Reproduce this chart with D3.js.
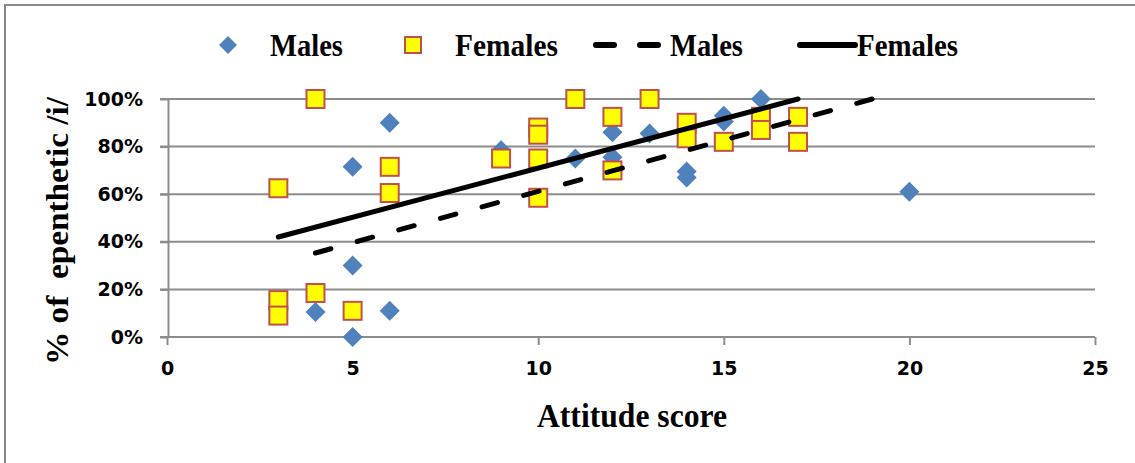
<!DOCTYPE html>
<html>
<head>
<meta charset="utf-8">
<script src="https://cdn.jsdelivr.net/npm/d3@7"></script>
<style>
  html, body { margin: 0; padding: 0; background: #fff; }
  svg { display: block; }
</style>
</head>
<body>
<svg id="chart" width="1135" height="463"></svg>
<script>
  // scatter values (attitude score, share of epenthetic /i/ in %)
  const maleX = [4, 5, 5, 5, 6, 6, 9, 11, 12, 12, 13, 14, 14, 15, 15, 16, 20];
  const maleY = [10.5, 0, 30, 71.5, 90, 11, 78.5, 75, 86, 75.5, 85.5, 69.5, 67, 93, 90.5, 100, 61];

  const femaleX = [3, 3, 3, 4, 4, 5, 6, 6, 9, 10, 10, 10, 10, 11, 12, 12, 13, 14, 14, 15, 16, 16, 17, 17];
  const femaleY = [62.5, 15.5, 9, 100, 18.5, 11, 71.5, 60.5, 75, 88, 85, 75, 58.5, 100, 92.5, 70, 100, 90, 83.5, 82, 92.5, 87, 92.5, 82];

  // linear trend lines (end points)
  const maleTrendX = [4, 19];
  const maleTrendY = [35.3, 100];
  const femaleTrendX = [3, 17];
  const femaleTrendY = [42, 100];

  const xTicks = [0, 5, 10, 15, 20, 25];
  const yTicks = [0, 20, 40, 60, 80, 100];

  const svg = d3.select('#chart');

  const x = d3.scaleLinear().domain([0, 25]).range([167, 1095]);
  const y = d3.scaleLinear().domain([0, 100]).range([337, 99]);

  // outer frame (left + top edges visible)
  svg.append('path')
    .attr('d', 'M5,463 L5,5 L1135,5')
    .attr('fill', 'none')
    .attr('stroke', '#8a8a8a')
    .attr('stroke-width', 2);

  // gridlines
  svg.append('g')
    .selectAll('line')
    .data(yTicks)
    .join('line')
    .attr('x1', 160).attr('x2', 1095)
    .attr('y1', d => y(d)).attr('y2', d => y(d))
    .attr('stroke', '#8c8c8c')
    .attr('stroke-width', 2);

  // y axis
  const yAxis = svg.append('g')
    .attr('transform', 'translate(168,0)')
    .call(d3.axisLeft(y).tickValues(yTicks).tickSize(8).tickSizeOuter(0).tickPadding(17)
      .tickFormat(d => d + '%'));
  yAxis.select('.domain').attr('stroke', '#8c8c8c').attr('stroke-width', 2);
  yAxis.selectAll('.tick line').attr('stroke', '#8c8c8c').attr('stroke-width', 2);
  yAxis.selectAll('.tick text')
    .attr('font-family', 'DejaVu Sans, sans-serif')
    .attr('font-weight', 'bold')
    .attr('font-size', 19)
    .attr('fill', '#000');

  // x axis (its baseline is the 0% gridline)
  const xAxis = svg.append('g')
    .attr('transform', `translate(0,${y(0)})`)
    .call(d3.axisBottom(x).tickValues(xTicks).tickSize(8).tickSizeOuter(0).tickPadding(17));
  xAxis.select('.domain').remove();
  xAxis.selectAll('.tick line').attr('stroke', '#8c8c8c').attr('stroke-width', 2);
  xAxis.selectAll('.tick text')
    .attr('font-family', 'DejaVu Sans, sans-serif')
    .attr('font-weight', 'bold')
    .attr('font-size', 19)
    .attr('fill', '#000');

  const serif = 'Liberation Serif, Times New Roman, serif';

  // axis titles
  svg.append('text')
    .attr('x', 632).attr('y', 427)
    .attr('text-anchor', 'middle')
    .attr('font-family', serif)
    .attr('font-weight', 'bold')
    .attr('font-size', 34)
    .attr('textLength', 190)
    .attr('lengthAdjust', 'spacingAndGlyphs')
    .text('Attitude score');

  svg.append('text')
    .attr('transform', 'translate(68,231) rotate(-90)')
    .attr('text-anchor', 'middle')
    .attr('font-family', serif)
    .attr('font-weight', 'bold')
    .attr('font-size', 31)
    .attr('textLength', 268)
    .attr('lengthAdjust', 'spacingAndGlyphs')
    .style('white-space', 'pre')
    .text('% of  epenthetic /i/');

  const diamond = (cx, cy, r) => `M${cx},${cy - r}L${cx + r},${cy}L${cx},${cy + r}L${cx - r},${cy}Z`;

  // male points
  svg.append('g')
    .selectAll('path')
    .data(d3.zip(maleX, maleY))
    .join('path')
    .attr('d', d => diamond(x(d[0]), y(d[1]), 10))
    .attr('fill', '#4f81bd');

  // female points
  svg.append('g')
    .selectAll('rect')
    .data(d3.zip(femaleX, femaleY))
    .join('rect')
    .attr('x', d => x(d[0]) - 9)
    .attr('y', d => y(d[1]) - 9)
    .attr('width', 18).attr('height', 18)
    .attr('fill', '#ffff00')
    .attr('stroke', '#c0504d')
    .attr('stroke-width', 2);

  const line = d3.line().x(d => x(d[0])).y(d => y(d[1]));

  svg.append('path')
    .attr('d', line(d3.zip(maleTrendX, maleTrendY)))
    .attr('fill', 'none')
    .attr('stroke', '#000')
    .attr('stroke-width', 5)
    .attr('stroke-linecap', 'round')
    .attr('stroke-dasharray', '16,27.2');

  svg.append('path')
    .attr('d', line(d3.zip(femaleTrendX, femaleTrendY)))
    .attr('fill', 'none')
    .attr('stroke', '#000')
    .attr('stroke-width', 5)
    .attr('stroke-linecap', 'round');

  // legend
  const legend = svg.append('g');
  const ly = 45;
  legend.append('path').attr('d', diamond(228, ly, 9)).attr('fill', '#4f81bd');
  legend.append('rect').attr('x', 405).attr('y', ly - 8).attr('width', 16).attr('height', 16)
    .attr('fill', '#ffff00').attr('stroke', '#c0504d').attr('stroke-width', 2);
  legend.append('line').attr('x1', 596).attr('x2', 664).attr('y1', ly).attr('y2', ly)
    .attr('stroke', '#000').attr('stroke-width', 6).attr('stroke-linecap', 'round')
    .attr('stroke-dasharray', '18,26');
  legend.append('line').attr('x1', 800).attr('x2', 855).attr('y1', ly).attr('y2', ly)
    .attr('stroke', '#000').attr('stroke-width', 6).attr('stroke-linecap', 'round');

  const legendItems = [
    { label: 'Males', x: 270, w: 73 },
    { label: 'Females', x: 455, w: 103 },
    { label: 'Males', x: 670, w: 73 },
    { label: 'Females', x: 857, w: 101 }
  ];
  legend.selectAll('text.lbl')
    .data(legendItems)
    .join('text')
    .attr('class', 'lbl')
    .attr('x', d => d.x).attr('y', 56)
    .attr('font-family', serif)
    .attr('font-weight', 'bold')
    .attr('font-size', 31)
    .attr('textLength', d => d.w)
    .attr('lengthAdjust', 'spacingAndGlyphs')
    .text(d => d.label);
</script>
</body>
</html>
